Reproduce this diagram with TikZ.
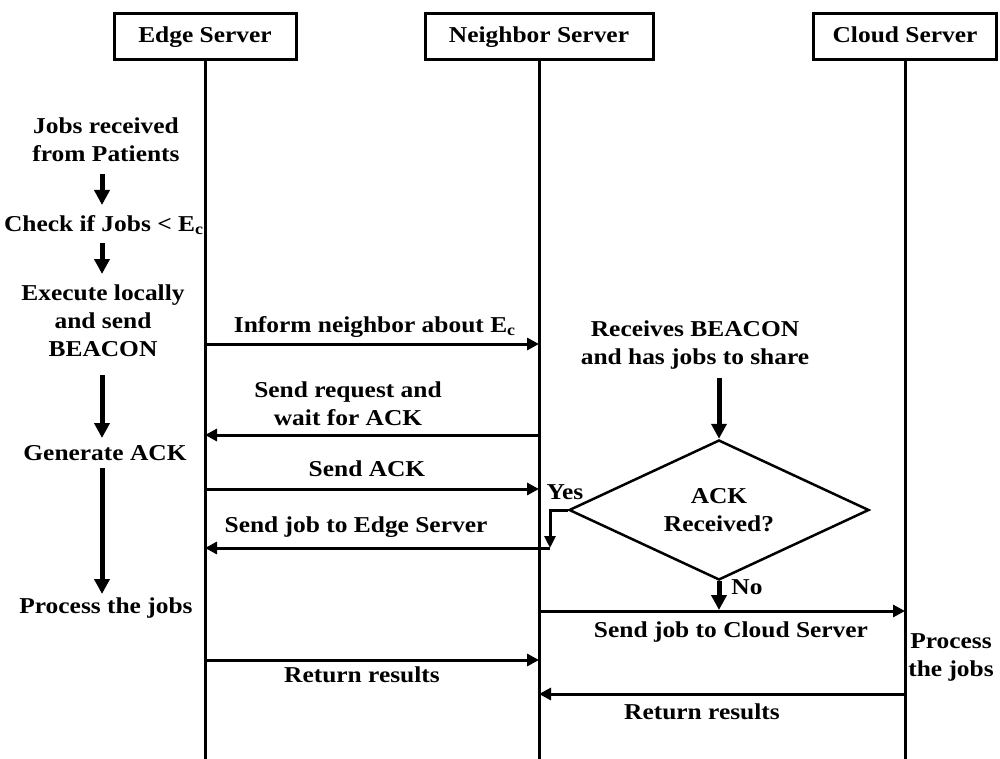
\documentclass[tikz,border=0pt]{standalone}
\usepackage{fontspec}
\setmainfont{Liberation Serif}[FakeStretch=1.12]
\usetikzlibrary{arrows.meta,shapes.geometric}
\begin{document}
\begin{tikzpicture}[x=0.5pt,y=-0.5pt,
  font=\bfseries\fontsize{11.35}{14}\selectfont,
  box/.style={draw, line width=1.5pt, minimum height=23pt, inner sep=2pt, text height=8pt, text depth=2.5pt},
  life/.style={line width=1.5pt},
  lbl/.style={align=center, inner sep=0pt},
  msg/.style={line width=1.5pt, -{Triangle[length=6pt,width=6pt]}},
  flow/.style={line width=2.5pt, -{Triangle[length=7.5pt,width=7.5pt]}},
  yesarr/.style={line width=1.5pt, -{Triangle[length=6pt,width=5.5pt]}},
  dec/.style={draw, diamond, line width=1.25pt, minimum width=150pt, minimum height=70pt, inner sep=0pt}]
\useasboundingbox (0,0) rectangle (1000,759);

% lifeline heads
\node[box, minimum width=91pt] (edge) at (205,37) {Edge Server};
\node[box, minimum width=114pt] (nb) at (539,37) {Neighbor Server};
\node[box, minimum width=91.5pt] (cloud) at (905,37) {Cloud Server};
\coordinate (bot) at (0,759);
\draw[life] (edge.south) -- (edge.south |- bot);
\draw[life] (nb.south) -- (nb.south |- bot);
\draw[life] (cloud.south) -- (cloud.south |- bot);

% left-hand flow at the edge server
\node[lbl] (t1) at (106,140) {Jobs received\\from Patients};
\node[lbl] (t2) at (104,225) {Check if Jobs < E\textsubscript{c}};
\node[lbl] (t3) at (103,321) {Execute locally\\and send\\BEACON};
\node[lbl] (t4) at (105,453) {Generate ACK};
\node[lbl] (t5) at (106,608) {Process the jobs};
\coordinate (a1s) at (102,174); \coordinate (a1e) at (102,205);
\coordinate (a2s) at (102,243); \coordinate (a2e) at (102,274);
\coordinate (a3s) at (102,375); \coordinate (a3e) at (102,438);
\coordinate (a4s) at (102,468); \coordinate (a4e) at (102,594);
\draw[flow] (a1s) -- (a1e);
\draw[flow] (a2s) -- (a2e);
\draw[flow] (a3s) -- (a3e);
\draw[flow] (a4s) -- (a4e);

% y levels
\coordinate (y1) at (0,344);
\coordinate (y2) at (0,435);
\coordinate (y3) at (0,489);
\coordinate (y4) at (0,548);
\coordinate (y5) at (0,611);
\coordinate (y6) at (0,660);
\coordinate (y7) at (0,694);

% messages
\draw[msg] (edge.south |- y1) -- (nb.south |- y1);
\node[lbl] (m1) at (375,327) {Inform neighbor about E\textsubscript{c}};

\draw[msg] (nb.south |- y2) -- (edge.south |- y2);
\node[lbl] (m2) at (348,404) {Send request and\\wait for ACK};

\draw[msg] (edge.south |- y3) -- (nb.south |- y3);
\node[lbl] (m3) at (367,469) {Send ACK};

% neighbor side decision
\node[lbl] (rb) at (695,345) {Receives BEACON\\and has jobs to share};
\node[dec] (d) at (719,510) {};
\node[lbl] (dt) at (d.center) {ACK\\Received?};
\coordinate (din) at (719,378);
\draw[flow] (din) -- (d.north);

\node[lbl] (yes) at (565,492) {Yes};
\coordinate (yc) at (550,510);
\coordinate (yb) at (550,548);
\draw[yesarr] (d.west) -- (yc) -- (yb);
\draw[msg] (yb) -- (edge.south |- y4);
\node[lbl] (m4) at (356,527) {Send job to Edge Server};

\node[lbl] (no) at (747,587) {No};
\coordinate (nt) at (719,610);
\draw[flow] (d.south) -- (nt);

\draw[msg] (nb.south |- y5) -- (cloud.south |- y5);
\node[lbl] (m5) at (731,632) {Send job to Cloud Server};

\node[lbl] (pc) at (951,657) {Process\\the jobs};

\draw[msg] (edge.south |- y6) -- (nb.south |- y6);
\node[lbl] (m6) at (362,675) {Return results};

\draw[msg] (cloud.south |- y7) -- (nb.south |- y7);
\node[lbl] (m7) at (702,712) {Return results};
\end{tikzpicture}
\end{document}
